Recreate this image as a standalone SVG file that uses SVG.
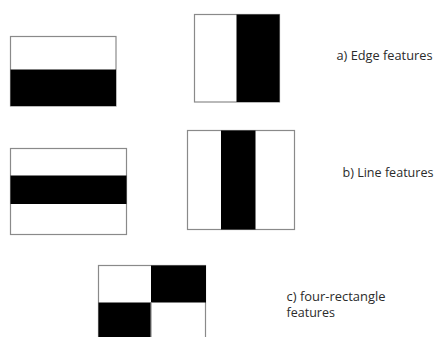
<svg xmlns="http://www.w3.org/2000/svg" width="435" height="337" viewBox="0 0 435 337">
<style>
.box{fill:#fff;stroke:#8a8a8a;stroke-width:1.2}
.blk{fill:#000}
.lbl{font-family:"Open Sans","Liberation Sans",sans-serif;font-size:12.5px;fill:#2b2b2b}
</style>
<rect width="435" height="337" fill="#fff"/>
<g id="edge-horizontal">
<rect class="box" x="10.5" y="36.5" width="105.5" height="69.5"/>
<rect class="blk" x="10.5" y="69.5" width="105.5" height="36.5"/>
</g>
<g id="edge-vertical">
<rect class="box" x="194.5" y="14.5" width="85" height="87.5"/>
<rect class="blk" x="236.5" y="14.5" width="43" height="87.5"/>
</g>
<g id="line-horizontal">
<rect class="box" x="10.5" y="148.5" width="116" height="86"/>
<rect class="blk" x="10.5" y="175.5" width="116" height="28.5"/>
</g>
<g id="line-vertical">
<rect class="box" x="187.5" y="130.5" width="107" height="99"/>
<rect class="blk" x="221" y="130.5" width="34.5" height="99"/>
</g>
<g id="four-rectangle">
<rect class="box" x="98.5" y="265.5" width="107" height="80"/>
<rect class="blk" x="151" y="265.5" width="55" height="37"/>
<rect class="blk" x="98.5" y="302.5" width="52.5" height="40"/>
<line x1="151" y1="302.5" x2="151" y2="337" stroke="#8a8a8a" stroke-width="1.2"/>
</g>
<g id="labels">
<text class="lbl" x="336.5" y="60" textLength="96" lengthAdjust="spacingAndGlyphs">a) Edge features</text>
<text class="lbl" x="342.5" y="176.5" textLength="91" lengthAdjust="spacingAndGlyphs">b) Line features</text>
<text class="lbl" x="286.5" y="300.5" textLength="99" lengthAdjust="spacingAndGlyphs">c) four-rectangle</text>
<text class="lbl" x="286.5" y="317">features</text>
</g>
</svg>
